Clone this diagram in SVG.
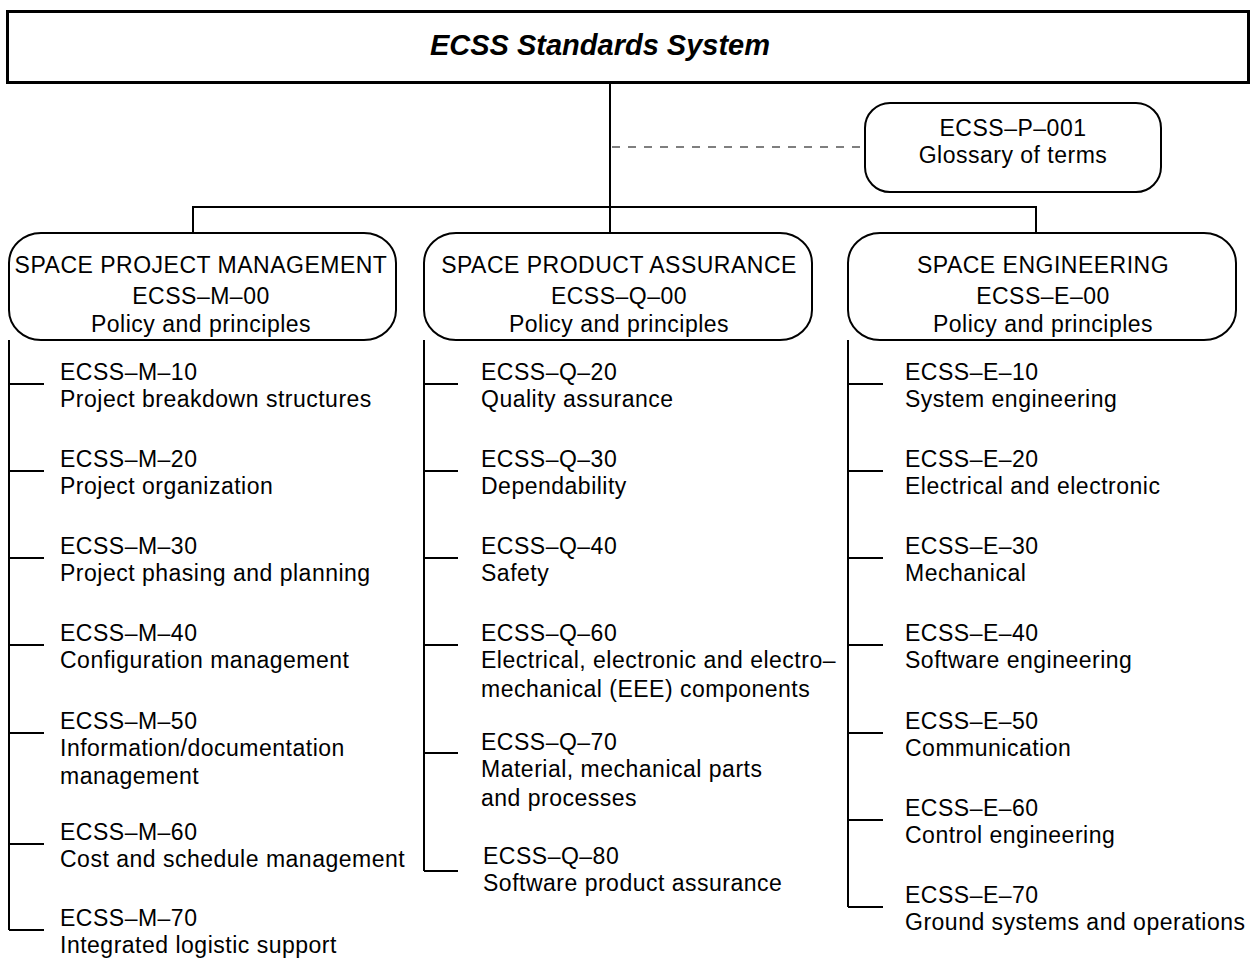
<svg xmlns="http://www.w3.org/2000/svg" width="1256" height="959" viewBox="0 0 1256 959">
<style>
  text { font-family: "Liberation Sans", Arial, sans-serif; font-size: 23px; letter-spacing: 0.5px; fill: #000; }
  .title { font-size: 29px; font-weight: bold; font-style: italic; letter-spacing: 0; }
  .c { text-anchor: middle; }
  .box { fill: #fff; stroke: #000; stroke-width: 2; }
  .ln { stroke: #000; stroke-width: 2; fill: none; }
  .dash { stroke: #555; stroke-width: 1.3; stroke-dasharray: 8 8; fill: none; }
</style>
<rect width="1256" height="959" fill="#fff"/>

<g id="connectors">
  <line class="ln" x1="610" y1="83" x2="610" y2="233"/>
  <polyline class="ln" points="193,233 193,207 1036,207 1036,233"/>
  <line class="dash" x1="612" y1="147" x2="865" y2="147"/>
  <line class="ln" x1="9" y1="340" x2="9" y2="930"/>
  <line class="ln" x1="9" y1="384" x2="44" y2="384"/>
  <line class="ln" x1="9" y1="471" x2="44" y2="471"/>
  <line class="ln" x1="9" y1="558" x2="44" y2="558"/>
  <line class="ln" x1="9" y1="645" x2="44" y2="645"/>
  <line class="ln" x1="9" y1="733" x2="44" y2="733"/>
  <line class="ln" x1="9" y1="844" x2="44" y2="844"/>
  <line class="ln" x1="9" y1="930" x2="44" y2="930"/>
  <line class="ln" x1="424" y1="340" x2="424" y2="871"/>
  <line class="ln" x1="424" y1="384" x2="458" y2="384"/>
  <line class="ln" x1="424" y1="471" x2="458" y2="471"/>
  <line class="ln" x1="424" y1="558" x2="458" y2="558"/>
  <line class="ln" x1="424" y1="645" x2="458" y2="645"/>
  <line class="ln" x1="424" y1="753" x2="458" y2="753"/>
  <line class="ln" x1="424" y1="871" x2="458" y2="871"/>
  <line class="ln" x1="848" y1="340" x2="848" y2="907"/>
  <line class="ln" x1="848" y1="384" x2="883" y2="384"/>
  <line class="ln" x1="848" y1="471" x2="883" y2="471"/>
  <line class="ln" x1="848" y1="558" x2="883" y2="558"/>
  <line class="ln" x1="848" y1="645" x2="883" y2="645"/>
  <line class="ln" x1="848" y1="733" x2="883" y2="733"/>
  <line class="ln" x1="848" y1="820" x2="883" y2="820"/>
  <line class="ln" x1="848" y1="907" x2="883" y2="907"/>
</g>

<g id="root">
  <rect x="7.5" y="11.5" width="1241" height="71" fill="#fff" stroke="#000" stroke-width="3"/>
  <text class="title c" x="600" y="55">ECSS Standards System</text>
</g>

<g id="glossary">
  <rect class="box" x="865" y="103" width="296" height="89" rx="25" ry="25"/>
  <text class="c" x="1013" y="136">ECSS–P–001</text>
  <text class="c" x="1013" y="163">Glossary of terms</text>
</g>

<g id="management">
  <rect class="box" x="9" y="233" width="387" height="107" rx="32" ry="30"/>
  <text class="c" x="201" y="273">SPACE PROJECT MANAGEMENT</text>
  <text class="c" x="201" y="304">ECSS–M–00</text>
  <text class="c" x="201" y="332">Policy and principles</text>
</g>

<g id="assurance">
  <rect class="box" x="424" y="233" width="388" height="107" rx="32" ry="30"/>
  <text class="c" x="619" y="273">SPACE PRODUCT ASSURANCE</text>
  <text class="c" x="619" y="304">ECSS–Q–00</text>
  <text class="c" x="619" y="332">Policy and principles</text>
</g>

<g id="engineering">
  <rect class="box" x="848" y="233" width="388" height="107" rx="32" ry="30"/>
  <text class="c" x="1043" y="273">SPACE ENGINEERING</text>
  <text class="c" x="1043" y="304">ECSS–E–00</text>
  <text class="c" x="1043" y="332">Policy and principles</text>
</g>

<g id="m10"><text x="60" y="380">ECSS–M–10</text><text x="60" y="407">Project breakdown structures</text></g>
<g id="m20"><text x="60" y="467">ECSS–M–20</text><text x="60" y="494">Project organization</text></g>
<g id="m30"><text x="60" y="554">ECSS–M–30</text><text x="60" y="581">Project phasing and planning</text></g>
<g id="m40"><text x="60" y="641">ECSS–M–40</text><text x="60" y="668">Configuration management</text></g>
<g id="m50"><text x="60" y="729">ECSS–M–50</text><text x="60" y="756">Information/documentation</text><text x="60" y="784">management</text></g>
<g id="m60"><text x="60" y="840">ECSS–M–60</text><text x="60" y="867">Cost and schedule management</text></g>
<g id="m70"><text x="60" y="926">ECSS–M–70</text><text x="60" y="953">Integrated logistic support</text></g>

<g id="q20"><text x="481" y="380">ECSS–Q–20</text><text x="481" y="407">Quality assurance</text></g>
<g id="q30"><text x="481" y="467">ECSS–Q–30</text><text x="481" y="494">Dependability</text></g>
<g id="q40"><text x="481" y="554">ECSS–Q–40</text><text x="481" y="581">Safety</text></g>
<g id="q60"><text x="481" y="641">ECSS–Q–60</text><text x="481" y="668">Electrical, electronic and electro–</text><text x="481" y="697">mechanical (EEE) components</text></g>
<g id="q70"><text x="481" y="750">ECSS–Q–70</text><text x="481" y="777">Material, mechanical parts</text><text x="481" y="806">and processes</text></g>
<g id="q80"><text x="483" y="864">ECSS–Q–80</text><text x="483" y="891">Software product assurance</text></g>

<g id="e10"><text x="905" y="380">ECSS–E–10</text><text x="905" y="407">System engineering</text></g>
<g id="e20"><text x="905" y="467">ECSS–E–20</text><text x="905" y="494">Electrical and electronic</text></g>
<g id="e30"><text x="905" y="554">ECSS–E–30</text><text x="905" y="581">Mechanical</text></g>
<g id="e40"><text x="905" y="641">ECSS–E–40</text><text x="905" y="668">Software engineering</text></g>
<g id="e50"><text x="905" y="729">ECSS–E–50</text><text x="905" y="756">Communication</text></g>
<g id="e60"><text x="905" y="816">ECSS–E–60</text><text x="905" y="843">Control engineering</text></g>
<g id="e70"><text x="905" y="903">ECSS–E–70</text><text x="905" y="930">Ground systems and operations</text></g>
</svg>
